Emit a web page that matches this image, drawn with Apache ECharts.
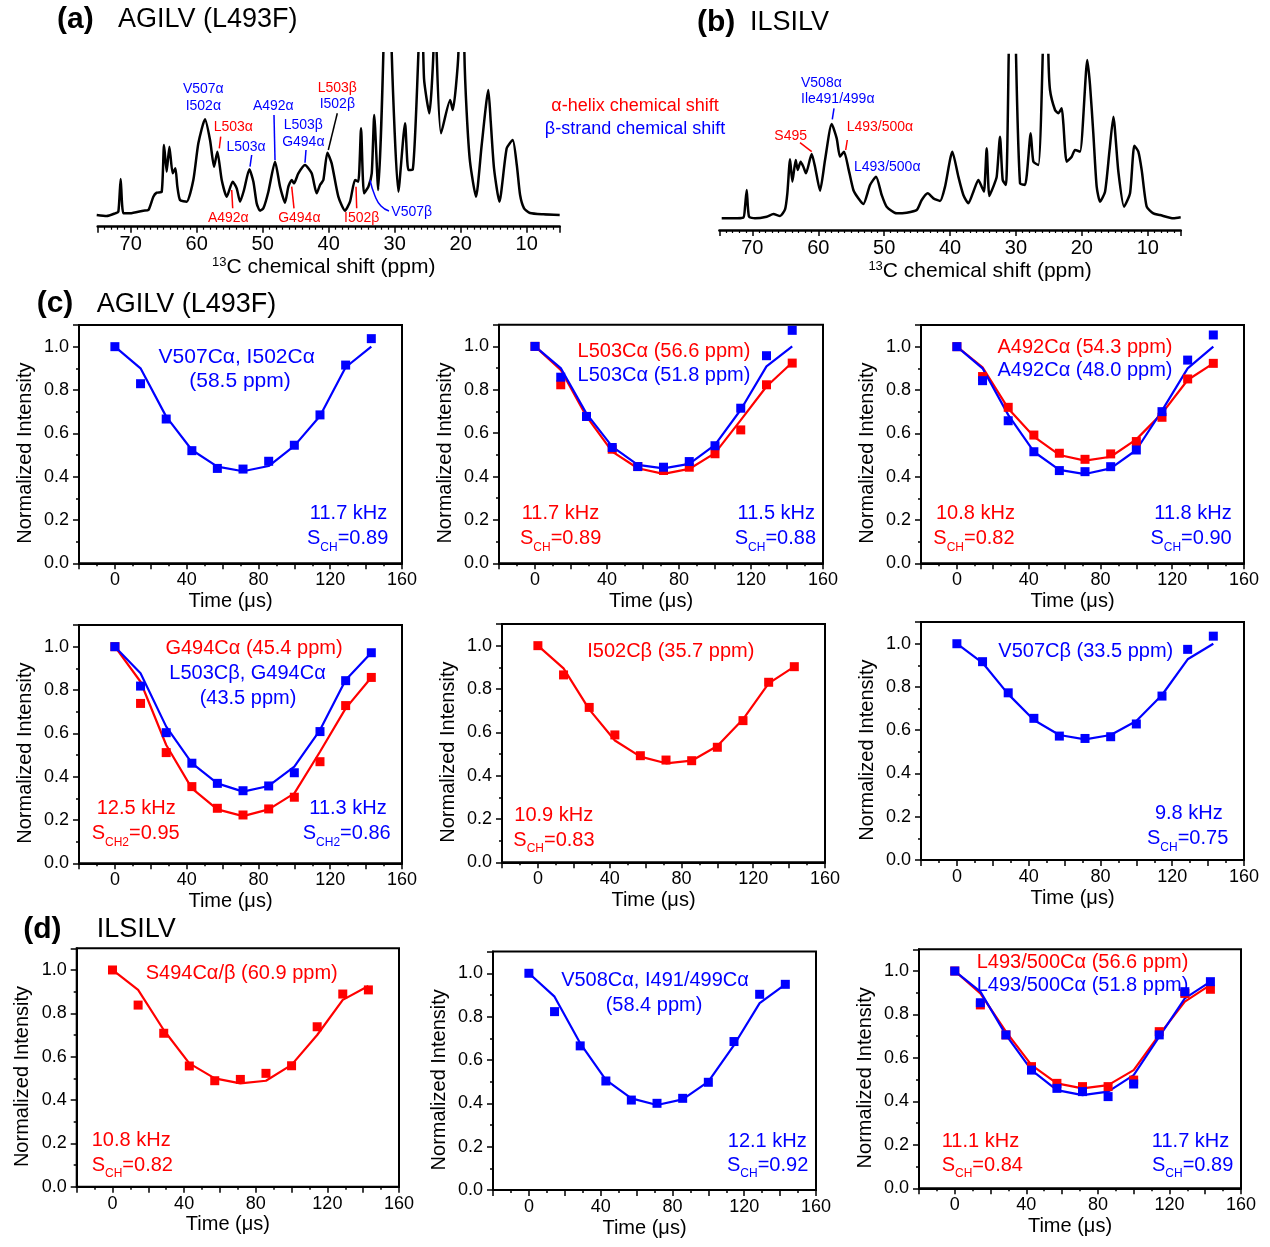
<!DOCTYPE html>
<html><head><meta charset="utf-8">
<script src="https://cdn.jsdelivr.net/npm/echarts@6/dist/echarts.min.js"></script>
<style>html,body{margin:0;padding:0;background:#fff}#c{width:1270px;height:1247px}</style>
</head><body><div id="c"></div>
<script>
const FONT = '"Liberation Sans", Arial, Helvetica, sans-serif';
const RED = '#ff0000', BLUE = '#0000ff';

// ---- (a) AGILV (L493F) 13C spectrum: ppm / intensity (arbitrary units, baseline 0)
const specAppm = [75.15,73.64,72.37,71.87,71.52,71.11,70.1,68.08,67.32,66.57,66.06,65.3,64.95,64.55,64.14,63.64,63.23,62.93,62.53,61.52,60.51,59.75,58.74,57.98,57.37,56.87,56.21,55.45,54.55,53.94,53.43,52.83,52.02,51.41,50.91,50.4,49.9,49.14,48.13,47.37,46.62,46.11,45.61,45.25,44.6,43.59,42.58,41.82,41.31,40.81,40.2,39.55,38.54,37.53,36.77,36.01,35.51,35.1,34.65,33.99,33.48,33.1,32.5,31.72,31.1,30.45,29.44,28.43,27.93,27.27,26.41,26.0,25.56,24.75,24.14,23.9,23.64,22.98,21.6,21.2,20.35,19.9,19.44,19.1,18.59,17.68,16.82,15.81,15.45,14.95,14.14,13.03,12.12,11.5,11.0,10.4,9.5,7.47,5.0];
const specAint = [0,-0.3,0.5,1,10.8,0.5,0.5,1.3,1.5,5.5,6.7,7,21,13,20.5,12.5,14,8.5,4.5,4,10.5,21.5,28.7,22.5,14.5,19,10.5,5.5,10,8,4,7.5,13.7,10,3.5,1.3,2,7,16,8.5,3.7,8.5,10.5,9.5,12.5,15,12.5,6.5,9,10.5,18.7,15.5,5.5,1.3,4,10.5,10,26,6.5,8.5,12.5,30,7.5,48.5,120,48.5,7,27.5,13.5,13.6,48.5,80,41,30.5,48.5,80,48.5,24.5,34.5,31.5,48.5,120,48.5,31,16,5.5,21,37.5,28,14,4,20,22.5,15,6,2,0.6,0.2,0];

// ---- (b) ILSILV 13C spectrum
const specBppm = [74.65,72.88,71.37,71.11,70.86,70.51,69.6,67.82,66.81,65.8,65.04,64.69,64.28,63.93,63.42,63.12,62.67,62.26,61.86,61.0,60.49,59.73,58.97,57.96,57.2,56.7,56.09,55.43,54.67,53.92,53.16,52.14,51.23,50.37,49.62,48.1,46.58,45.06,44.3,43.39,42.53,41.52,40.76,39.65,38.74,37.98,37.22,36.46,35.7,35.2,34.85,34.44,34.04,33.43,32.92,32.42,32.01,31.51,31.1,30.55,29.99,29.38,28.62,27.76,27.36,26.6,25.94,25.5,25.08,24.83,24.07,23.57,23.06,22.81,22.3,21.54,21.04,20.28,19.17,18.76,18.26,17.75,17.24,16.48,15.82,15.22,14.46,13.6,12.69,12.03,11.43,10.92,10.16,9.15,8.14,6.11,5.0];
const specBint = [0,0,0.2,3.5,8.5,0.5,0,0.5,1.3,0.7,2.7,7.5,17.7,11,17.5,14.5,17,15.5,13.5,19.3,15.5,8.3,17.5,28.3,24,18.5,20,15,8.5,6,4.3,10,12.5,7,3.5,1.5,1.7,2.5,5.5,7.5,6,5.2,9.5,20,12.5,7,4.5,8,11.5,9.5,8,21,6.7,9.5,12.5,24.5,11.5,10,49,120,49,10.5,10,25.5,17,16,49,100,49,38.5,32.5,31.5,33,28.5,17,18.5,20.5,20,47.5,40,25.5,9.5,5,8,20,30.5,14,3.5,7.5,21.8,20,14.5,3.5,1.5,1,0,0.3];

// ---- dipolar dephasing curves: time points (us)
const timeUs = [0, 14.3, 28.6, 42.9, 57.1, 71.4, 85.7, 100, 114.3, 128.6, 142.9];
// (c) AGILV (L493F)
const v507Ca_pts = [1.0,0.829,0.666,0.52,0.438,0.435,0.471,0.545,0.685,0.915,1.037];
const v507Ca_fit = [1.0,0.90,0.677,0.523,0.446,0.425,0.449,0.542,0.68,0.905,1.0];
const l503Ca566_pts = [1.0,0.823,0.677,0.526,0.446,0.428,0.443,0.505,0.615,0.823,0.923];
const l503Ca566_fit = [1.0,0.892,0.677,0.515,0.438,0.412,0.435,0.508,0.66,0.815,0.926];
const l503Ca518_pts = [1.0,0.858,0.677,0.534,0.446,0.443,0.469,0.542,0.715,0.957,1.074];
const l503Ca518_fit = [1.0,0.9,0.69,0.538,0.454,0.438,0.458,0.546,0.708,0.908,1.0];
const a492Ca543_pts = [1.0,0.862,0.72,0.592,0.508,0.48,0.505,0.562,0.674,0.851,0.923];
const a492Ca543_fit = [1.0,0.905,0.715,0.585,0.5,0.474,0.492,0.572,0.692,0.846,0.923];
const a492Ca480_pts = [1.0,0.843,0.658,0.515,0.428,0.423,0.446,0.523,0.70,0.938,1.054];
const a492Ca480_fit = [1.0,0.9,0.685,0.515,0.431,0.412,0.438,0.523,0.705,0.9,1.0];
const g494Ca454_pts = [1.0,0.738,0.511,0.354,0.254,0.223,0.251,0.305,0.469,0.728,0.858];
const g494Ca454_fit = [1.0,0.838,0.546,0.346,0.249,0.218,0.249,0.323,0.515,0.715,0.858];
const l503Cb435_pts = [1.0,0.818,0.603,0.462,0.369,0.335,0.357,0.418,0.608,0.843,0.972];
const l503Cb435_fit = [1.0,0.877,0.631,0.462,0.369,0.331,0.357,0.446,0.615,0.846,0.972];
const i502Cb357_pts = [1.0,0.865,0.715,0.588,0.492,0.472,0.469,0.531,0.654,0.831,0.903];
const i502Cb357_fit = [1.0,0.895,0.706,0.562,0.488,0.457,0.469,0.537,0.66,0.826,0.903];
const v507Cb335_pts = [1.0,0.917,0.773,0.655,0.573,0.562,0.57,0.629,0.758,0.974,1.035];
const v507Cb335_fit = [1.0,0.912,0.767,0.647,0.578,0.558,0.578,0.643,0.763,0.928,1.0];
// (d) ILSILV
const s494Cab609_pts = [1.0,0.838,0.708,0.557,0.489,0.495,0.523,0.558,0.738,0.889,0.908];
const s494Cab609_fit = [1.0,0.908,0.723,0.569,0.5,0.477,0.489,0.562,0.7,0.862,0.926];
const v508Ca584_pts = [1.0,0.823,0.665,0.503,0.415,0.4,0.423,0.497,0.685,0.903,0.949];
const v508Ca584_fit = [1.0,0.892,0.677,0.508,0.423,0.392,0.418,0.5,0.669,0.862,0.949];
const l493Ca566_pts = [1.0,0.844,0.706,0.56,0.483,0.468,0.468,0.498,0.721,0.897,0.916];
const l493Ca566_fit = [1.0,0.897,0.721,0.567,0.483,0.46,0.475,0.544,0.706,0.859,0.936];
const l493Ca518_pts = [1.0,0.854,0.706,0.544,0.46,0.445,0.422,0.48,0.706,0.905,0.951];
const l493Ca518_fit = [1.0,0.905,0.706,0.544,0.452,0.429,0.445,0.521,0.698,0.874,0.951];

// ---- layout of the nine small panels [left, top, right, bottom] and their curves
const panels = [
  {r:[79,325,402,563.3],   c:[[v507Ca_fit,v507Ca_pts,BLUE]]},
  {r:[499,324.7,823,563.3],c:[[l503Ca566_fit,l503Ca566_pts,RED],[l503Ca518_fit,l503Ca518_pts,BLUE]]},
  {r:[921,325,1244,563.3], c:[[a492Ca543_fit,a492Ca543_pts,RED],[a492Ca480_fit,a492Ca480_pts,BLUE]]},
  {r:[79,625,402,863.3],   c:[[g494Ca454_fit,g494Ca454_pts,RED],[l503Cb435_fit,l503Cb435_pts,BLUE]]},
  {r:[502,624,825,862.3],  c:[[i502Cb357_fit,i502Cb357_pts,RED]]},
  {r:[921,622.1,1244,860], c:[[v507Cb335_fit,v507Cb335_pts,BLUE]]},
  {r:[76.7,948.3,399,1186.7], c:[[s494Cab609_fit,s494Cab609_pts,RED]]},
  {r:[493,951.6,816,1190], c:[[v508Ca584_fit,v508Ca584_pts,BLUE]]},
  {r:[919,949.3,1241,1188.3], c:[[l493Ca566_fit,l493Ca566_pts,RED],[l493Ca518_fit,l493Ca518_pts,BLUE]]}
];

const grids = [], xAxes = [], yAxes = [], series = [];

function specAxes(left, top, right, bottom, ymin, ymax, namePad, nameGap) {
  grids.push({left, top, width: right-left, height: bottom-top, show:false, containLabel:false, outerBoundsMode:'none'});
  const gi = grids.length-1;
  xAxes.push({gridIndex:gi, type:'value', inverse:true, min:5, max:75,
    axisLine:{show:true, onZero:false, lineStyle:{color:'#000', width:2.5}},
    axisTick:{show:true, inside:false, length:6, lineStyle:{color:'#000', width:1.5}},
    minorTick:{show:true, splitNumber:10, length:3, lineStyle:{color:'#000', width:1.2}},
    splitLine:{show:false}, minorSplitLine:{show:false},
    axisLabel:{color:'#000', fontSize:20, fontFamily:FONT, margin:8,
      formatter:v => (Math.abs(v % 10) < 1e-9 ? String(v) : '')},
    name:'{sup|13}{m|C chemical shift (ppm)}', nameLocation:'middle', nameGap,
    nameTextStyle:{color:'#000', fontFamily:FONT, padding:namePad,
      rich:{sup:{fontSize:13, lineHeight:13, verticalAlign:'top', fontFamily:FONT, color:'#000'},
            m:{fontSize:21, lineHeight:24, fontFamily:FONT, color:'#000'}}}
  });
  yAxes.push({gridIndex:gi, type:'value', show:false, min:ymin, max:ymax, splitLine:{show:false}});
  return gi;
}
const ga = specAxes(97.7, 53.3, 559.7, 226.7, -3.5, 48.5, [0,10,0,0], 28);
series.push({type:'line', xAxisIndex:ga, yAxisIndex:ga, data:specAppm.map((p,i)=>[p,specAint[i]]),
  symbol:'none', smooth:0.2, clip:true, lineStyle:{color:'#000', width:2.5}, silent:true});
const gb = specAxes(719.4, 55, 1180.7, 230, -3.5, 49, [0,0,0,60], 29.5);
series.push({type:'line', xAxisIndex:gb, yAxisIndex:gb, data:specBppm.map((p,i)=>[p,specBint[i]]),
  symbol:'none', smooth:0.2, clip:true, lineStyle:{color:'#000', width:2.5}, silent:true});

panels.forEach(pn => {
  const [l,t,r,b] = pn.r;
  grids.push({left:l, top:t, width:r-l, height:b-t, show:true, borderColor:'#000', borderWidth:2,
    backgroundColor:'transparent', containLabel:false, outerBoundsMode:'none'});
  const gi = grids.length-1;
  xAxes.push({gridIndex:gi, type:'value', min:-20, max:160, interval:20,
    axisLine:{show:true, onZero:false, lineStyle:{color:'#000', width:2}},
    axisTick:{show:true, inside:false, length:6, lineStyle:{color:'#000', width:1.5}},
    minorTick:{show:true, splitNumber:2, length:3, lineStyle:{color:'#000', width:1.5}},
    splitLine:{show:false}, minorSplitLine:{show:false},
    axisLabel:{color:'#000', fontSize:18, fontFamily:FONT, margin:8,
      formatter:v => (v >= 0 && v % 40 === 0 ? String(v) : '')},
    name:'Time (\u03bcs)', nameLocation:'middle', nameGap:28,
    nameTextStyle:{color:'#000', fontSize:20, fontFamily:FONT, padding:[0,20,0,0]}
  });
  yAxes.push({gridIndex:gi, type:'value', min:0, max:1.1, interval:0.2,
    axisLine:{show:true, onZero:false, lineStyle:{color:'#000', width:2}},
    axisTick:{show:true, inside:false, length:6, lineStyle:{color:'#000', width:1.5}},
    minorTick:{show:true, splitNumber:2, length:3, lineStyle:{color:'#000', width:1.5}},
    splitLine:{show:false}, minorSplitLine:{show:false},
    axisLabel:{color:'#000', fontSize:18, fontFamily:FONT, margin:10,
      formatter:v => { const k = Math.round(v*10); return (Math.abs(v*10-k) < 1e-6 && k % 2 === 0) ? v.toFixed(1) : ''; }},
    name:'Normalized Intensity', nameLocation:'middle', nameGap:44,
    nameTextStyle:{color:'#000', fontSize:20, fontFamily:FONT, padding:[0,18,0,0]}
  });
  pn.c.forEach(([fit,pts,col]) => {
    series.push({type:'line', xAxisIndex:gi, yAxisIndex:gi, data:timeUs.map((x,k)=>[x,fit[k]]),
      symbol:'none', lineStyle:{color:col, width:2.2, opacity:1}, z:2, silent:true});
  });
  pn.c.forEach(([fit,pts,col]) => {
    series.push({type:'scatter', xAxisIndex:gi, yAxisIndex:gi, data:timeUs.map((x,k)=>[x,pts[k]]),
      symbol:'rect', symbolSize:9, itemStyle:{color:col, opacity:1}, z:3, silent:true});
  });
});

// ---- text annotations
function T(x, y, text, color, o) {
  o = o || {};
  const al = o.align || 'center';
  const st = {text, fill:color, fontSize:o.size||20, fontFamily:FONT, fontWeight:o.bold?'bold':'normal',
    textAlign:al, align:al, textVerticalAlign:'middle', verticalAlign:'middle'};
  if (o.rich) st.rich = o.rich;
  return {type:'text', x, y, silent:true, z:10, style:st};
}
function S(x, y, sub, val, color, align) {
  return T(x, y, '{m|S}{b|'+sub+'}{m|='+val+'}', color, {align, rich:{
    m:{fontSize:20, lineHeight:30, fontFamily:FONT, fill:color},
    b:{fontSize:12, lineHeight:12, verticalAlign:'bottom', fontFamily:FONT, fill:color}}});
}
function L(x1,y1,x2,y2,color) {
  return {type:'line', silent:true, z:10, shape:{x1,y1,x2,y2}, style:{stroke:color, lineWidth:1.5}};
}
const g = [];
// panel titles
g.push(T(57,20,'(a)','#000',{size:30,bold:true,align:'left'}));
g.push(T(118,20,'AGILV (L493F)','#000',{size:27,align:'left'}));
g.push(T(697,23,'(b)','#000',{size:30,bold:true,align:'left'}));
g.push(T(750,23,'ILSILV','#000',{size:27,align:'left'}));
g.push(T(36.7,304,'(c)','#000',{size:30,bold:true,align:'left'}));
g.push(T(96.7,305,'AGILV (L493F)','#000',{size:27,align:'left'}));
g.push(T(23.3,930,'(d)','#000',{size:30,bold:true,align:'left'}));
g.push(T(96.7,930,'ILSILV','#000',{size:27,align:'left'}));
// legend text
g.push(T(635,106,'\u03b1-helix chemical shift',RED,{size:18}));
g.push(T(635,129,'\u03b2-strand chemical shift',BLUE,{size:18}));
// spectrum (a) labels
const s14 = {size:14};
g.push(T(203.3,89.3,'V507\u03b1',BLUE,s14)); g.push(T(203.3,106,'I502\u03b1',BLUE,s14));
g.push(T(273.3,106,'A492\u03b1',BLUE,s14)); g.push(L(274,115,275,160,BLUE));
g.push(T(233.3,126.7,'L503\u03b1',RED,s14)); g.push(L(220.7,136.7,219.3,148.3,RED));
g.push(T(246,146.7,'L503\u03b1',BLUE,s14)); g.push(L(251.7,155,250,166.7,BLUE));
g.push(T(303.3,125,'L503\u03b2',BLUE,s14)); g.push(T(303.3,141.7,'G494\u03b1',BLUE,s14)); g.push(L(306,150,305,162.7,BLUE));
g.push(T(337.3,87.7,'L503\u03b2',RED,s14)); g.push(T(337.3,104.3,'I502\u03b2',BLUE,s14)); g.push(L(337.3,113.3,328.3,150,'#000'));
g.push(T(228.3,218.3,'A492\u03b1',RED,s14)); g.push(L(231.7,190,232.7,208.3,RED));
g.push(T(299.3,218.3,'G494\u03b1',RED,s14)); g.push(L(291.7,186.7,294,208.3,RED));
g.push(T(361.7,218.3,'I502\u03b2',RED,s14)); g.push(L(356,186.7,356.7,208.3,RED));
g.push(T(411.7,211.7,'V507\u03b2',BLUE,s14));
g.push({type:'polyline', silent:true, z:10, shape:{points:[[370,180],[375,196],[381,206],[389,211]], smooth:0.5}, style:{stroke:BLUE, fill:null, lineWidth:1.5}});
// spectrum (b) labels
g.push(T(801,82.7,'V508\u03b1',BLUE,{size:14,align:'left'}));
g.push(T(801,99.3,'Ile491/499\u03b1',BLUE,{size:14,align:'left'})); g.push(L(834,108.3,832.3,119.3,BLUE));
g.push(T(790.7,136,'S495',RED,s14)); g.push(L(800,142.7,811.7,151.7,RED));
g.push(T(846.7,126.7,'L493/500\u03b1',RED,{size:14,align:'left'})); g.push(L(847.3,140,845.7,150,RED));
g.push(T(854,167.3,'L493/500\u03b1',BLUE,{size:14,align:'left'}));
// small panel annotations
const A = '\u03b1', B = '\u03b2';
g.push(T(236.7,357.7,'V507C'+A+', I502C'+A,BLUE,{size:21})); g.push(T(240,381.7,'(58.5 ppm)',BLUE,{size:21}));
g.push(T(387.3,513.3,'11.7 kHz',BLUE,{align:'right'})); g.push(S(388.3,538.3,'CH','0.89',BLUE,'right'));

g.push(T(664,351.7,'L503C'+A+' (56.6 ppm)',RED)); g.push(T(664,375,'L503C'+A+' (51.8 ppm)',BLUE));
g.push(T(521.7,513.3,'11.7 kHz',RED,{align:'left'})); g.push(S(520,538.3,'CH','0.89',RED,'left'));
g.push(T(815,513.3,'11.5 kHz',BLUE,{align:'right'})); g.push(S(816,538.3,'CH','0.88',BLUE,'right'));

g.push(T(1085,347.3,'A492C'+A+' (54.3 ppm)',RED)); g.push(T(1085,370,'A492C'+A+' (48.0 ppm)',BLUE));
g.push(T(936,513.3,'10.8 kHz',RED,{align:'left'})); g.push(S(933.3,538.3,'CH','0.82',RED,'left'));
g.push(T(1231.7,513.3,'11.8 kHz',BLUE,{align:'right'})); g.push(S(1231.7,538.3,'CH','0.90',BLUE,'right'));

g.push(T(254,648.3,'G494C'+A+' (45.4 ppm)',RED)); g.push(T(247.5,673.3,'L503C'+B+', G494C'+A,BLUE)); g.push(T(248,698.3,'(43.5 ppm)',BLUE));
g.push(T(96.7,808.3,'12.5 kHz',RED,{align:'left'})); g.push(S(91.7,833.3,'CH2','0.95',RED,'left'));
g.push(T(386.7,808.3,'11.3 kHz',BLUE,{align:'right'})); g.push(S(390.7,833.3,'CH2','0.86',BLUE,'right'));

g.push(T(670.8,651.7,'I502C'+B+' (35.7 ppm)',RED));
g.push(T(514.3,815,'10.9 kHz',RED,{align:'left'})); g.push(S(513.3,840,'CH','0.83',RED,'left'));

g.push(T(1085.8,651.7,'V507C'+B+' (33.5 ppm)',BLUE));
g.push(T(1222.7,813.3,'9.8 kHz',BLUE,{align:'right'})); g.push(S(1228.3,838.3,'CH','0.75',BLUE,'right'));

g.push(T(241.7,973.3,'S494C'+A+'/'+B+' (60.9 ppm)',RED));
g.push(T(91.7,1140,'10.8 kHz',RED,{align:'left'})); g.push(S(91.7,1165,'CH','0.82',RED,'left'));

g.push(T(655,980,'V508C'+A+', I491/499C'+A,BLUE)); g.push(T(654,1005,'(58.4 ppm)',BLUE));
g.push(T(806.7,1141.7,'12.1 kHz',BLUE,{align:'right'})); g.push(S(808.3,1165,'CH','0.92',BLUE,'right'));

g.push(T(1082.5,962.7,'L493/500C'+A+' (56.6 ppm)',RED)); g.push(T(1082.5,985,'L493/500C'+A+' (51.8 ppm)',BLUE));
g.push(T(941.7,1141.7,'11.1 kHz',RED,{align:'left'})); g.push(S(941.7,1165,'CH','0.84',RED,'left'));
g.push(T(1229.3,1141.7,'11.7 kHz',BLUE,{align:'right'})); g.push(S(1233.3,1165,'CH','0.89',BLUE,'right'));

const chart = echarts.init(document.getElementById('c'), null, {renderer:'canvas'});
chart.setOption({
  animation:false,
  backgroundColor:'#fff',
  textStyle:{fontFamily:FONT},
  grid:grids, xAxis:xAxes, yAxis:yAxes, series, graphic:{elements:g}
});
</script></body></html>
